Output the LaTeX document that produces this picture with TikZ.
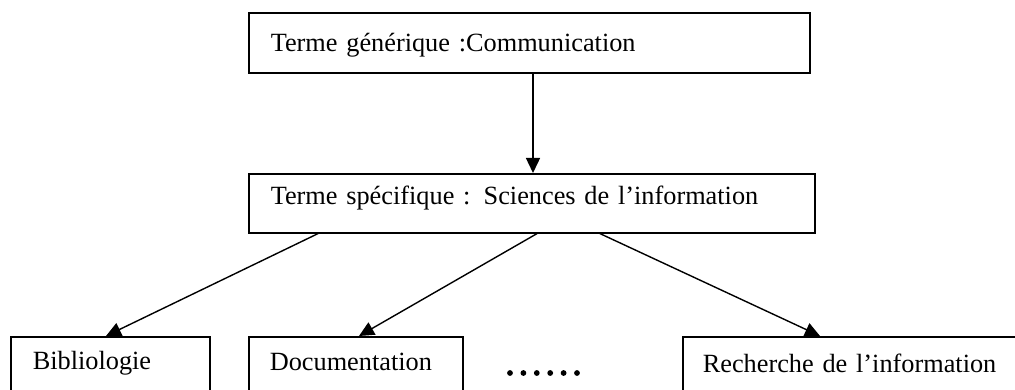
\documentclass[tikz,border=0pt]{standalone}
\usepackage{fontspec}
\setmainfont{Liberation Serif}
\usetikzlibrary{arrows.meta}
\tikzset{
  box/.style={draw=black, line width=1.6pt, rectangle, anchor=north west,
    inner ysep=0pt, align=left, font=\fontsize{26.3}{30}\selectfont},
  conn/.style={line width=1.4pt, -{Triangle[length=15pt,width=14pt]}},
  dotmark/.style={fill=black}
}
\begin{document}
\begin{tikzpicture}[x=1pt,y=-1pt]
\useasboundingbox (0,0) rectangle (1015,390);
\clip (0,0) rectangle (1015,390);
% top box 248-809, 12-72, baseline 51
\node[box, inner xsep=22pt, text width=517pt, text height=39pt, text depth=21pt] (top) at (248,12)
  {Terme générique :Communication};
% middle box 248-814, 173-232, baseline 204
\node[box, inner xsep=22pt, text width=522pt, text height=31pt, text depth=28pt] (mid) at (248,173)
  {Terme spécifique : Sciences de l’information};
% bottom boxes
\node[box, inner xsep=22pt, text width=155pt, text height=33pt, text depth=40pt] (bib) at (10,336)
  {Bibliologie};
\node[box, inner xsep=21pt, text width=172pt, text height=34pt, text depth=40pt] (doc) at (248,336)
  {Documentation};
\node[box, inner xsep=20pt, text width=318pt, text height=36pt, text depth=40pt] (rech) at (682,336)
  {Recherche de l’information};
% connectors
\draw[conn] ([xshift=285pt]top.south west) -- ([xshift=285pt]mid.north west);
\draw[conn] ([xshift=70pt]mid.south west) -- ([xshift=96pt]bib.north west);
\draw[conn] ([xshift=289pt]mid.south west) -- ([xshift=111pt]doc.north west);
\draw[conn] ([xshift=352pt]mid.south west) -- ([xshift=138pt]rech.north west);
% dots
\foreach \i in {0,...,5} \fill[dotmark] (510+13.4*\i,373) circle (2.9pt);
\end{tikzpicture}
\end{document}
